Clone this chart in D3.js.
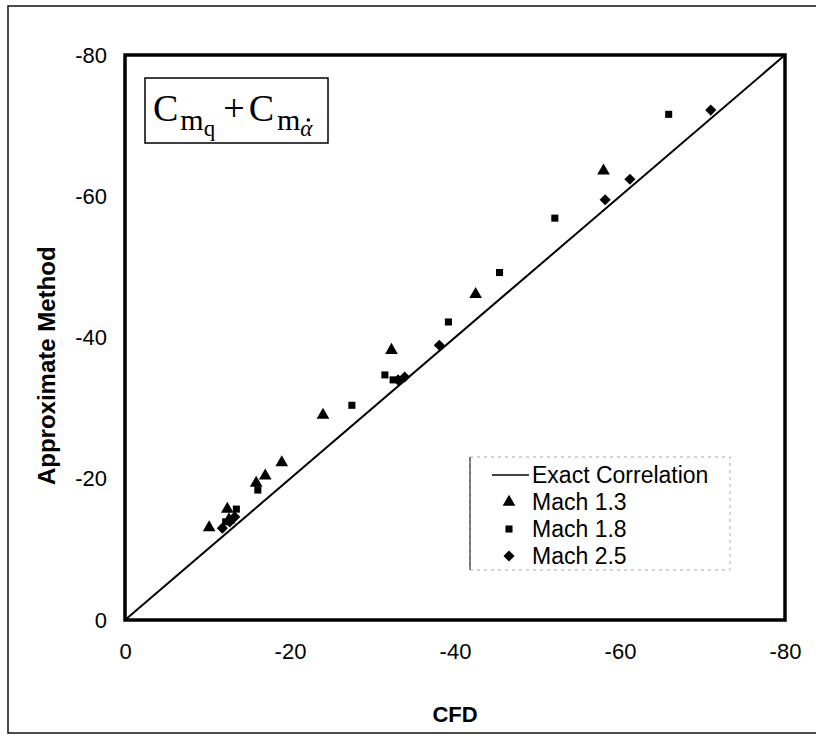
<!DOCTYPE html>
<html>
<head>
<meta charset="utf-8">
<script src="https://cdn.jsdelivr.net/npm/d3@7"></script>
<style>
body { margin: 0; background: #fff; }
</style>
</head>
<body>
<svg id="chart"></svg>
<script>
const w = 816;
const h = 736;
const sans = 'Arial, "Liberation Sans", sans-serif';
const serif = '"Liberation Serif", "Times New Roman", serif';

// tick values (axes run from 0 to -80)
const tickVals = [0, -20, -40, -60, -80];

// [CFD, Approximate Method]
const mach13 = [[-10.2, -13.1], [-12.4, -15.7], [-12.6, -14.2], [-15.9, -19.4], [-17.0, -20.4],
                [-19.0, -22.3], [-24.0, -29.0], [-32.3, -38.2], [-42.5, -46.1], [-58.0, -63.6]];
const mach18 = [[-12.2, -13.9], [-13.5, -15.7], [-16.1, -18.4], [-27.5, -30.4], [-31.5, -34.7],
                [-32.5, -34.0], [-39.2, -42.2], [-45.4, -49.2], [-52.1, -56.9], [-65.9, -71.6]];
const mach25 = [[-11.8, -13.0], [-12.7, -13.9], [-13.3, -14.6], [-33.1, -34.0], [-33.9, -34.4],
                [-38.1, -38.9], [-58.2, -59.5], [-61.2, -62.4], [-71.0, -72.2]];
const exactLine = [[0, 0], [-80, -80]];

const legendLabels = ["Exact Correlation", "Mach 1.3", "Mach 1.8", "Mach 2.5"];

const padL = 125, padR = 785, padT = 55, padB = 620;

const svg = d3.select('#chart')
    .attr('width', w)
    .attr('height', h)
    .style('font-family', sans);

// outer frame
svg.append('rect')
    .attr('x', 8).attr('y', 6)
    .attr('width', 830).attr('height', 727)
    .attr('fill', 'none')
    .attr('stroke', '#111')
    .attr('stroke-width', 1.5);

const xScale = d3.scaleLinear().domain([0, -80]).range([padL, padR]);
const yScale = d3.scaleLinear().domain([0, -80]).range([padB, padT]);

// exact correlation line
svg.append('path')
    .datum(exactLine)
    .attr('d', d3.line().x(d => xScale(d[0])).y(d => yScale(d[1])))
    .attr('stroke', '#000')
    .attr('stroke-width', 2)
    .attr('fill', 'none');

// plot box
svg.append('rect')
    .attr('x', padL).attr('y', padT)
    .attr('width', padR - padL).attr('height', padB - padT)
    .attr('fill', 'none')
    .attr('stroke', '#000')
    .attr('stroke-width', 3.5);

const fmt = d => String(d);   // plain hyphen, like the original
const xAxis = d3.axisBottom(xScale).tickValues(tickVals).tickFormat(fmt).tickSize(0).tickPadding(23);
const yAxis = d3.axisLeft(yScale).tickValues(tickVals).tickFormat(fmt).tickSize(0).tickPadding(18);

svg.append('g')
    .attr('transform', 'translate(0,' + padB + ')')
    .call(xAxis)
    .call(g => g.select('.domain').remove())
    .selectAll('text')
    .attr('font-size', 22)
    .attr('font-family', sans)
    .attr('fill', '#000');

svg.append('g')
    .attr('transform', 'translate(' + padL + ',0)')
    .call(yAxis)
    .call(g => g.select('.domain').remove())
    .selectAll('text')
    .attr('font-size', 22)
    .attr('font-family', sans)
    .attr('fill', '#000');

// axis titles
svg.append('text')
    .attr('x', 455).attr('y', 722)
    .attr('text-anchor', 'middle')
    .attr('font-size', 22)
    .attr('font-weight', 'bold')
    .text('CFD');

svg.append('text')
    .attr('transform', 'translate(55,' + yScale(-36) + ') rotate(-90)')
    .attr('text-anchor', 'middle')
    .attr('font-size', 24)
    .attr('font-weight', 'bold')
    .text('Approximate Method');

// markers
const triangle = d3.symbol().type(d3.symbolTriangle).size(70);
const square = d3.symbol().type(d3.symbolSquare).size(50);
const diamond = d3.symbol().type(d3.symbolSquare).size(62);   // drawn rotated 45 deg

function drawSeries(data, sym, rot) {
  svg.append('g').selectAll('path')
      .data(data)
      .enter()
      .append('path')
      .attr('d', sym)
      .attr('transform', d => 'translate(' + xScale(d[0]) + ',' + yScale(d[1]) + ') rotate(' + rot + ')')
      .attr('fill', '#000');
}
drawSeries(mach13, triangle, 0);
drawSeries(mach18, square, 0);
drawSeries(mach25, diamond, 45);

// title box
svg.append('rect')
    .attr('x', 145).attr('y', 78)
    .attr('width', 183).attr('height', 65)
    .attr('fill', '#fff')
    .attr('stroke', '#000')
    .attr('stroke-width', 1.5);

const title = svg.append('text')
    .attr('x', 153).attr('y', 121)
    .style('font-family', serif)
    .attr('font-size', 38);
title.append('tspan').text('C');
title.append('tspan').attr('font-size', 30).attr('dy', 9).attr('dx', 2).text('m');
title.append('tspan').attr('font-size', 23).attr('dy', 6).text('q');
title.append('tspan').attr('dy', -15).attr('dx', 8).text('+');
title.append('tspan').attr('dx', 4).text('C');
title.append('tspan').attr('font-size', 30).attr('dy', 9).attr('dx', 3).text('m');
const alpha = title.append('tspan').attr('font-size', 23).attr('dy', 6).attr('font-style', 'italic').text('\u03B1');

// the time-derivative dot over alpha
const ab = alpha.node().getBBox();
svg.append('circle')
    .attr('cx', ab.x + ab.width / 2 + 1.5)
    .attr('cy', ab.y + 4)
    .attr('r', 1.8)
    .attr('fill', '#000');

// legend
const lg = svg.append('g');
lg.append('rect')
    .attr('x', 470).attr('y', 457)
    .attr('width', 260).attr('height', 113)
    .attr('fill', '#fff')
    .attr('stroke', '#aaa')
    .attr('stroke-width', 1)
    .attr('stroke-dasharray', '3,4');
lg.append('line')
    .attr('x1', 470).attr('x2', 470).attr('y1', 457).attr('y2', 570)
    .attr('stroke', '#333').attr('stroke-width', 1.2);

const rowY = d3.scalePoint().domain(legendLabels).range([475, 556]);

lg.append('line')
    .attr('x1', 492).attr('x2', 529)
    .attr('y1', rowY(legendLabels[0])).attr('y2', rowY(legendLabels[0]))
    .attr('stroke', '#000').attr('stroke-width', 1.5);

const legSyms = [null, [triangle, 0], [square, 0], [diamond, 45]];
legendLabels.forEach((lab, i) => {
  if (legSyms[i]) {
    lg.append('path')
        .attr('d', legSyms[i][0])
        .attr('transform', 'translate(509,' + rowY(lab) + ') rotate(' + legSyms[i][1] + ')')
        .attr('fill', '#000');
  }
  lg.append('text')
      .attr('x', 532).attr('y', rowY(lab))
      .attr('dy', '0.36em')
      .attr('font-size', 23)
      .text(lab);
});
</script>
</body>
</html>
